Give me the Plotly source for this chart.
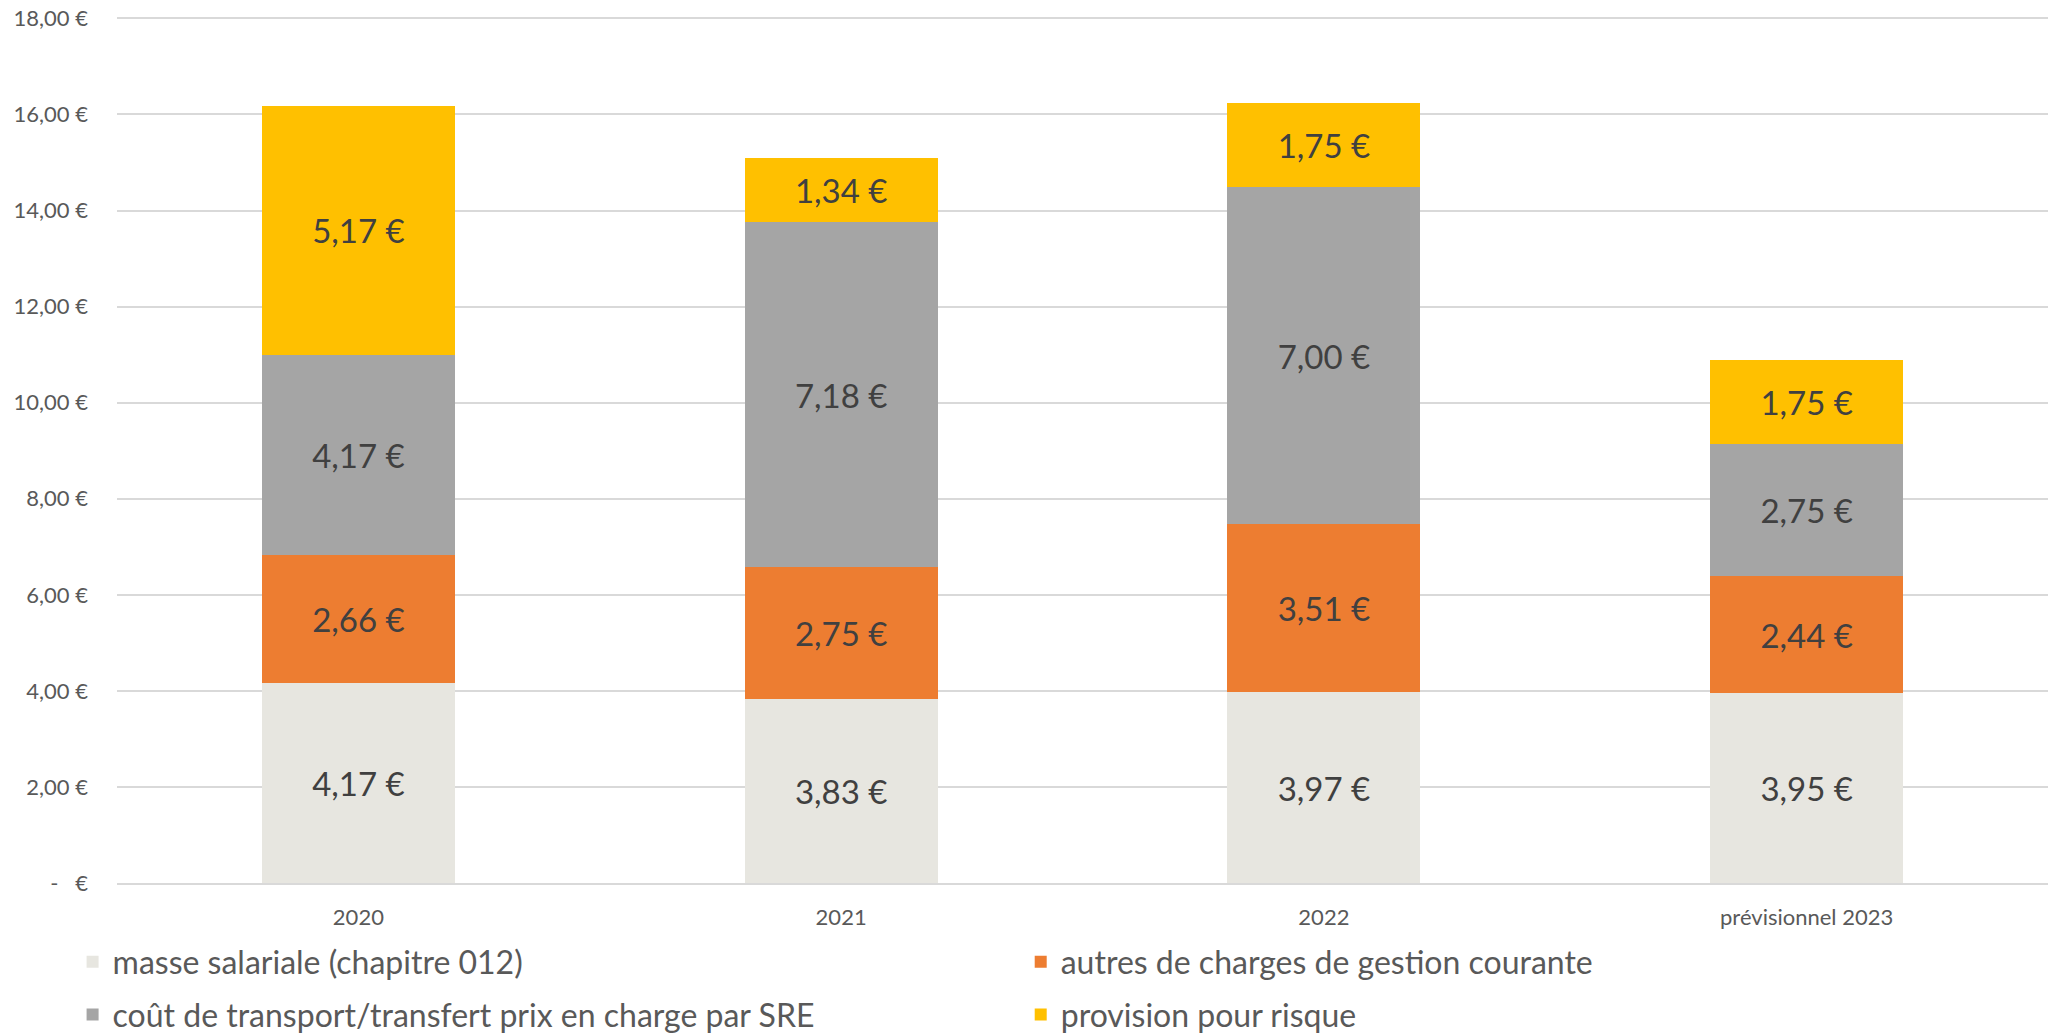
import plotly.graph_objects as go

# Source data
years = ["2020", "2021", "2022", "prévisionnel 2023"]
masse_salariale = [4.17, 3.83, 3.97, 3.95]
autres_charges = [2.66, 2.75, 3.51, 2.44]
cout_transport = [4.17, 7.18, 7.00, 2.75]
provision_risque = [5.17, 1.34, 1.75, 1.75]

y_ticks = [0, 2, 4, 6, 8, 10, 12, 14, 16, 18]
y_ticktext = ["-   €", "2,00 €", "4,00 €", "6,00 €", "8,00 €", "10,00 €",
              "12,00 €", "14,00 €", "16,00 €", "18,00 €"]

# name, values, colour, legend id
series = [
    ("masse salariale (chapitre 012)", masse_salariale, "#E7E6E0", "legend"),
    ("autres de charges de gestion courante", autres_charges, "#ED7D31", "legend2"),
    ("coût de transport/transfert prix en charge par SRE", cout_transport, "#A5A5A5", "legend3"),
    ("provision pour risque", provision_risque, "#FFC000", "legend4"),
]

fig = go.Figure()
for name, vals, color, leg in series:
    fig.add_trace(go.Bar(
        x=years,
        y=vals,
        name=name,
        legend=leg,
        marker=dict(color=color, line=dict(width=0)),
        texttemplate="%{y:.2f} €",
        textposition="inside",
        insidetextanchor="middle",
        textangle=0,
        textfont=dict(size=33, color="#404040"),
        hoverinfo="skip",
    ))

legend_style = dict(
    orientation="h",
    xanchor="left",
    yanchor="middle",
    font=dict(size=32, color="#595959"),
    itemwidth=30,
    bgcolor="rgba(0,0,0,0)",
)

fig.update_layout(
    barmode="stack",
    bargap=0.6,
    separators=", ",
    width=2051,
    height=1034,
    margin=dict(l=117, r=3, t=16, b=151, autoexpand=False),
    plot_bgcolor="white",
    paper_bgcolor="white",
    font=dict(family="Lato", color="#595959"),
    uniformtext=dict(minsize=33, mode="show"),
    legend=dict(legend_style, x=-0.023, y=-0.091),
    legend2=dict(legend_style, x=0.468, y=-0.091),
    legend3=dict(legend_style, x=-0.023, y=-0.152),
    legend4=dict(legend_style, x=0.468, y=-0.152),
    showlegend=True,
)

fig.update_xaxes(
    tickfont=dict(size=22, color="#595959"),
    showline=True,
    linecolor="#D9D9D9",
    linewidth=2,
    ticks="",
    ticklabelstandoff=14,
)
fig.update_yaxes(
    range=[0, 18.05],
    tickvals=y_ticks,
    ticktext=y_ticktext,
    tickfont=dict(size=22, color="#595959"),
    showgrid=True,
    gridcolor="#D9D9D9",
    gridwidth=1.5,
    zeroline=False,
    ticklabelstandoff=28,
)

fig.write_html("out.html", config={"displayModeBar": False},
               post_script="document.body.style.margin='0';")
